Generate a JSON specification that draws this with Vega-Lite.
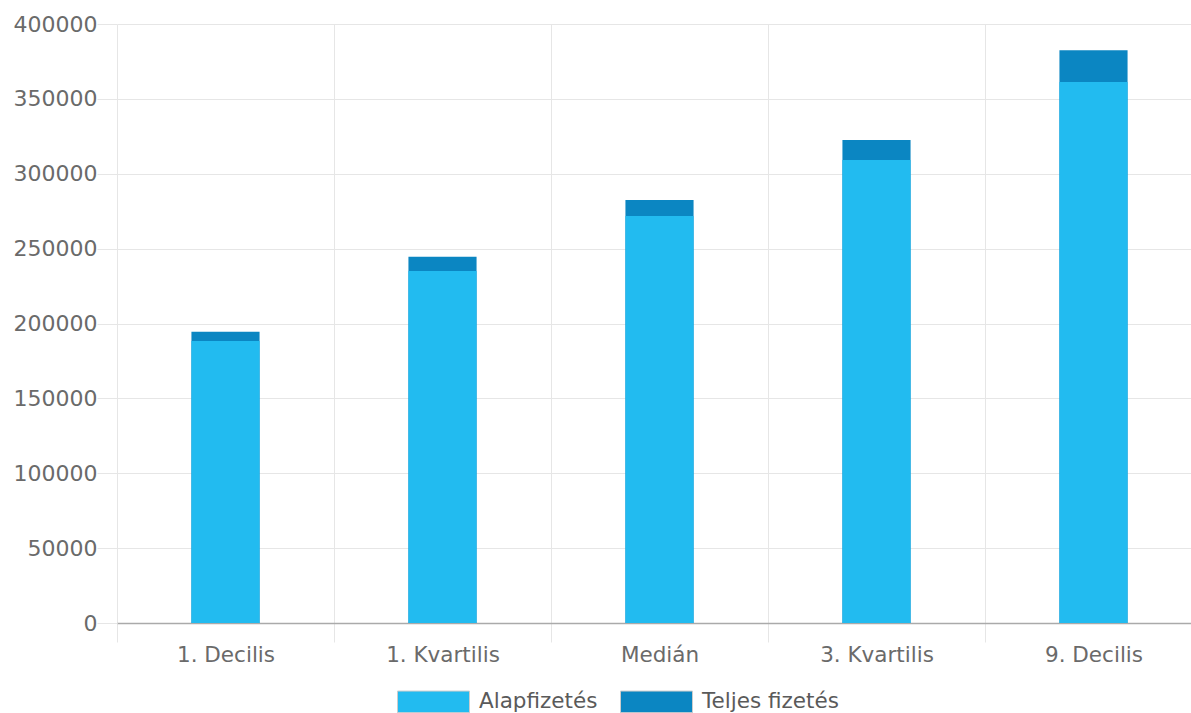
{
  "$schema": "https://vega.github.io/schema/vega-lite/v6.json",
  "autosize": {"type": "none"},
  "padding": {"left": 117, "top": 24, "right": 0, "bottom": 90},
  "width": 1085,
  "height": 599,
  "background": "white",
  "config": {
    "font": "DejaVu Sans",
    "view": {"stroke": null}
  },
  "data": {
    "values": [
      {"kategoria": "1. Decilis", "tipus": "Teljes fizetés", "ertek": 194500},
      {"kategoria": "1. Kvartilis", "tipus": "Teljes fizetés", "ertek": 244500},
      {"kategoria": "Medián", "tipus": "Teljes fizetés", "ertek": 282500},
      {"kategoria": "3. Kvartilis", "tipus": "Teljes fizetés", "ertek": 322500},
      {"kategoria": "9. Decilis", "tipus": "Teljes fizetés", "ertek": 382500},
      {"kategoria": "1. Decilis", "tipus": "Alapfizetés", "ertek": 188300},
      {"kategoria": "1. Kvartilis", "tipus": "Alapfizetés", "ertek": 235100},
      {"kategoria": "Medián", "tipus": "Alapfizetés", "ertek": 271800},
      {"kategoria": "3. Kvartilis", "tipus": "Alapfizetés", "ertek": 309200},
      {"kategoria": "9. Decilis", "tipus": "Alapfizetés", "ertek": 361300}
    ]
  },
  "mark": {"type": "bar", "width": {"band": 0.314}},
  "encoding": {
    "x": {
      "field": "kategoria",
      "type": "nominal",
      "sort": null,
      "title": null,
      "scale": {"paddingInner": 0, "paddingOuter": 0},
      "axis": {
        "tickBand": "extent",
        "labelAngle": 0,
        "labelFontSize": 21.5,
        "labelColor": "#6a6a6a",
        "labelPadding": 2,
        "tickSize": 19,
        "tickColor": "#e6e6e6",
        "gridColor": "#e6e6e6",
        "grid": true,
        "domainColor": "#aaaaaa",
        "domainWidth": 1.5
      }
    },
    "y": {
      "field": "ertek",
      "type": "quantitative",
      "stack": null,
      "title": null,
      "scale": {"domain": [0, 400000], "nice": false},
      "axis": {
        "values": [0, 50000, 100000, 150000, 200000, 250000, 300000, 350000, 400000],
        "format": "d",
        "labelFontSize": 22,
        "labelColor": "#6a6a6a",
        "labelPadding": 0,
        "tickSize": 20,
        "tickColor": "#e6e6e6",
        "gridColor": "#e6e6e6",
        "domain": false
      }
    },
    "color": {
      "field": "tipus",
      "type": "nominal",
      "title": null,
      "scale": {"domain": ["Alapfizetés", "Teljes fizetés"], "range": ["#22bbf0", "#0b86c2"]},
      "legend": {
        "orient": "none",
        "direction": "horizontal",
        "legendX": 280,
        "legendY": 641,
        "symbolType": "M-1,-0.3H1V0.3H-1Z",
        "symbolSize": 5184,
        "symbolStrokeColor": "#cccccc",
        "symbolStrokeWidth": 1,
        "labelFontSize": 21.5,
        "labelColor": "#5a5a5a",
        "labelOffset": 9,
        "columnPadding": 20
      }
    },
    "order": {"field": "tipus", "sort": "descending"}
  }
}
